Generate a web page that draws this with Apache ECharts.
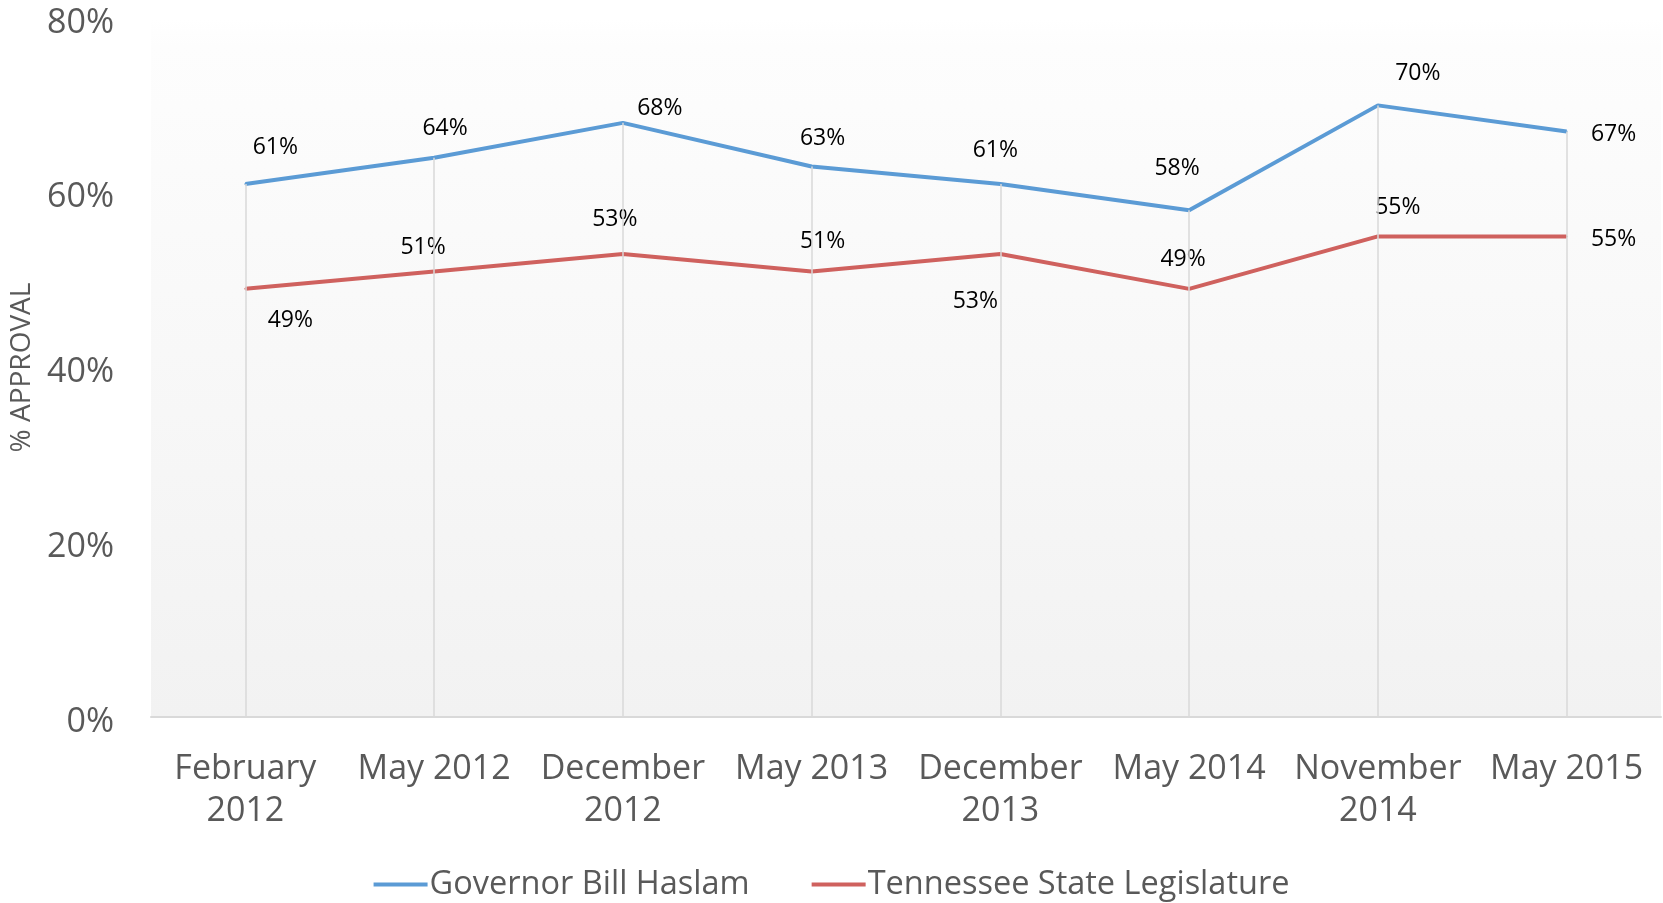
<!DOCTYPE html>
<html>
<head>
<meta charset="utf-8">
<script src="https://cdn.jsdelivr.net/npm/echarts@6/dist/echarts.min.js"></script>
<style>
  html, body { margin: 0; padding: 0; background: #fff; }
  #chart { width: 1663px; height: 903px; }
</style>
</head>
<body>
<div id="chart"></div>
<script>
// data
const categories = ["February\n2012", "May 2012", "December\n2012", "May 2013",
  "December\n2013", "May 2014", "November\n2014", "May 2015"];
const governor = [61, 64, 68, 63, 61, 58, 70, 67];
const legislature = [49, 51, 53, 51, 53, 49, 55, 55];
const yTicks = [0, 20, 40, 60, 80];

// label offsets from each point (px), to mimic the hand-placed labels
const govOffsets = [[30, -37], [11, -29], [37, -14], [11, -28], [-5, -34], [-12, -42], [40, -32], [47, 3]];
const legOffsets = [[45, 32], [-11, -24], [-8, -34], [11, -30], [-25, 48], [-6, -29], [20, -29], [47, 3]];

const BLUE = "#5b9bd5";
const RED = "#cf615e";
const FONT = "Open Sans";

const chart = echarts.init(document.getElementById("chart"));

// Excel-style drop lines from the top series down to the axis
const dropLines = governor.map((v, i) => [
  { coord: [i, v] },
  { coord: [i, 0] },
]);

const withLabels = (values, offsets) =>
  values.map((v, i) => ({
    value: v,
    label: { offset: offsets[i] },
  }));

const labelStyle = {
  show: true,
  position: "inside",
  align: "center",
  verticalAlign: "middle",
  formatter: "{c}%",
  color: "#000",
  fontFamily: FONT,
  fontSize: 23,
};

const option = {
  animation: false,
  textStyle: { fontFamily: FONT },
  grid: {
    left: 151,
    right: 2,
    top: 18,
    bottom: 186,
    show: true,
    borderWidth: 0,
    backgroundColor: {
      type: "linear", x: 0, y: 0, x2: 0, y2: 1,
      colorStops: [
        { offset: 0, color: "#ffffff" },
        { offset: 0.04, color: "#fdfdfd" },
        { offset: 1, color: "#f2f2f2" },
      ],
    },
  },
  legend: {
    data: ["Governor Bill Haslam", "Tennessee State Legislature"],
    bottom: -3,
    left: "center",
    icon: "rect",
    itemWidth: 54,
    itemHeight: 4,
    itemGap: 62,
    textStyle: { fontFamily: FONT, fontSize: 32.5, color: "#595959", padding: [0, 0, 0, -3] },
  },
  xAxis: {
    type: "category",
    data: categories,
    boundaryGap: true,
    axisLine: { lineStyle: { color: "#d9d9d9", width: 2 } },
    axisTick: { show: false },
    axisLabel: {
      interval: 0,
      margin: 31,
      color: "#595959",
      fontFamily: FONT,
      fontSize: 34,
      lineHeight: 42,
    },
  },
  yAxis: {
    type: "value",
    min: yTicks[0],
    max: yTicks[yTicks.length - 1],
    interval: yTicks[1] - yTicks[0],
    name: "% APPROVAL",
    nameLocation: "middle",
    nameGap: 103,
    nameRotate: 90,
    nameTextStyle: { fontFamily: FONT, fontSize: 28, color: "#595959" },
    axisLine: { show: false },
    axisTick: { show: false },
    splitLine: { show: false },
    axisLabel: {
      formatter: "{value}%",
      margin: 37,
      verticalAlign: "top",
      lineHeight: 10,
      color: "#595959",
      fontFamily: FONT,
      fontSize: 34,
    },
  },
  series: [
    {
      name: "drop",
      type: "line",
      data: [],
      z: 1,
      markLine: {
        silent: true,
        symbol: "none",
        label: { show: false },
        lineStyle: { color: "#d9d9d9", width: 1.5, type: "solid" },
        data: dropLines,
      },
    },
    {
      name: "Governor Bill Haslam",
      type: "line",
      z: 3,
      data: withLabels(governor, govOffsets),
      symbol: "circle",
      symbolSize: 2,
      itemStyle: { color: BLUE },
      lineStyle: { color: BLUE, width: 4 },
      label: labelStyle,
    },
    {
      name: "Tennessee State Legislature",
      type: "line",
      z: 3,
      data: withLabels(legislature, legOffsets),
      symbol: "circle",
      symbolSize: 2,
      itemStyle: { color: RED },
      lineStyle: { color: RED, width: 4 },
      label: labelStyle,
    },
  ],
};

chart.setOption(option);
window.addEventListener("resize", () => chart.resize());
</script>
</body>
</html>
